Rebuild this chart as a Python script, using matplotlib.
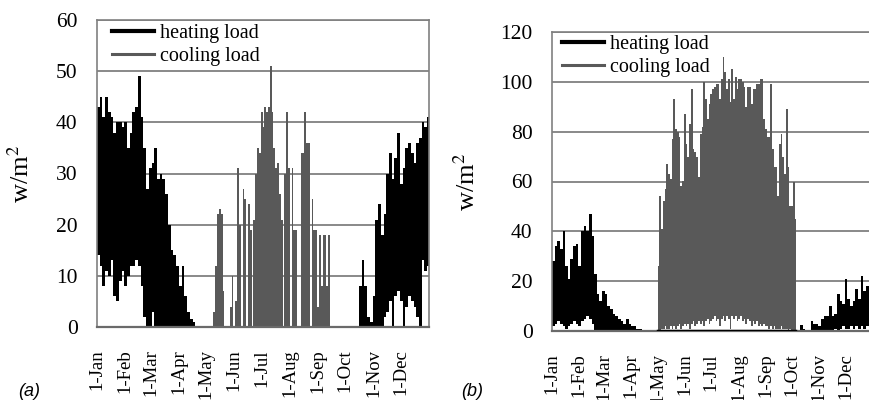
import numpy as np
import matplotlib
matplotlib.use("Agg")
import matplotlib.pyplot as plt
from matplotlib.lines import Line2D

plt.rcParams['font.family'] = ['Liberation Serif', 'DejaVu Serif']
plt.rcParams['mathtext.fontset'] = 'stix'

months = ['1-Jan', '1-Feb', '1-Mar', '1-Apr', '1-May', '1-Jun',
          '1-Jul', '1-Aug', '1-Sep', '1-Oct', '1-Nov', '1-Dec']
month_day = [0, 31, 59, 90, 120, 151, 181, 212, 243, 273, 304, 334]

# ---- panel (a): values, w/m2 ----
a_heat1_days = np.arange(0, 106, 3)
a_heat1_hi = [43, 45, 41, 45, 42, 41, 38, 40, 40, 39, 40, 35, 38, 42, 43, 49, 41, 35,
              27, 31, 32, 35, 29, 30, 29, 26, 20, 15, 14, 12, 8, 12, 6, 3, 1.5, 1]
a_heat1_lo = [14, 12, 8, 11, 10, 13, 6, 5, 9, 11, 8, 10, 12, 12, 13, 12, 8, 2,
              0, 0, 3, 0, 0, 0, 0, 0, 0, 0, 0, 0, 0, 0, 0, 0, 0, 0]
a_heat2_days = np.arange(288, 364, 3)
a_heat2_hi = [8, 13, 8, 2, 1, 6, 21, 24, 18, 22, 30, 34, 29, 33, 38, 28, 31, 35,
              36, 34, 32, 36, 37, 40, 39, 41]
a_heat2_lo = [0, 0, 0, 0, 0, 0, 0, 0, 0, 2, 3, 5, 0, 6, 7, 5, 0, 4,
              6, 5, 4, 2, 0, 13, 11, 12]
a_cool_days = np.arange(128, 257, 2)
a_cool_hi = [3, 12, 22, 23, 22, 7, 0, 0, 0, 4,
             10, 0, 5, 31, 20, 0, 27, 25, 0, 24,
             19, 0, 21, 30, 35, 34, 42, 39, 43, 42,
             43, 51, 42, 35, 31, 32, 26, 21, 0, 30,
             42, 31, 0, 31, 19, 19, 0, 0, 34, 34,
             42, 36, 36, 0, 25, 19, 19, 4, 18, 8,
             18, 18, 8, 18, 0]

# ---- panel (b) ----
b_heat1_days = np.arange(0, 118, 3)
b_heat1_hi = [28, 34, 36, 33, 40, 26, 21, 29, 34, 35, 26, 40, 42, 40, 47, 38, 23, 15, 12, 16,
              15, 10, 9, 7, 6, 5, 4, 3, 5, 3, 2, 2, 1, 1, 0.5, 0.5, 0.3, 0.3, 0.3, 0.5]
b_heat1_lo = [2, 3, 4, 3, 2, 1, 2, 3, 4, 3, 2, 4, 5, 6, 5, 3, 0, 0, 0, 0,
              0, 0, 0, 0, 0, 0, 0, 0, 0, 0, 0, 0, 0, 0, 0, 0, 0, 0, 0, 0]
b_heat2_days = np.arange(279, 364, 3)
b_heat2_hi = [0, 2.4, 1, 0, 0, 4, 3, 3, 2, 5, 6, 6, 10, 6, 7, 15, 12, 11, 21, 13,
              10, 12, 17, 13, 22, 16, 18, 17, 33]
b_heat2_lo = [0, 0, 0, 0, 0, 0, 0, 0, 0, 0, 0, 0, 0, 0, 1, 0, 1, 2, 1, 1,
              2, 1, 2, 1, 2, 1, 2, 1, 2]
b_cool_days = np.arange(120, 277, 2)
b_cool_hi = [26, 54, 41, 52, 57, 67, 63, 61, 77, 93,
             81, 80, 78, 58, 60, 87, 75, 70, 83, 97,
             73, 72, 70, 62, 79, 82, 100, 93, 85, 91,
             95, 97, 98, 99, 99, 93, 101, 110, 104, 97,
             101, 92, 105, 93, 102, 97, 101, 101, 100, 98,
             90, 98, 98, 91, 97, 97, 99, 99, 101, 101,
             85, 81, 78, 78, 99, 73, 66, 66, 54, 75,
             79, 70, 63, 89, 66, 50, 50, 60, 45]
b_cool_lo = [0, 0, 1, 1, 2, 1, 1, 2, 1, 2,
             1, 2, 3, 1, 2, 3, 2, 3, 1, 3,
             4, 2, 3, 4, 3, 4, 2, 4, 5, 3,
             4, 5, 6, 4, 5, 2, 5, 6, 4, 6,
             5, 1, 6, 5, 6, 4, 5, 6, 4, 5,
             3, 5, 4, 2, 4, 3, 4, 2, 3, 2,
             3, 2, 2, 1, 2, 1, 2, 1, 1, 1,
             2, 1, 1, 1, 0, 1, 0, 0, 0]

HEAT = 'black'
COOL = '#595959'
GRID = '#808080'


def rangebars(ax, days, hi, lo, color, z):
    hi = np.asarray(hi, float)
    lo = np.asarray(lo, float)
    step = days[1] - days[0]
    ax.bar(days, hi - lo, bottom=lo, width=step, align='edge',
           color=color, linewidth=0, zorder=z)


def style(ax, ymax, ystep, xpad):
    ax.set_xlim(0, 365)
    ax.set_ylim(0, ymax)
    ax.set_yticks(np.arange(0, ymax + 1, ystep))
    ax.set_xticks(month_day)
    ax.set_xticklabels(months, rotation=90, fontsize=13.5)
    ax.tick_params(axis='y', labelsize=15.5, length=0, pad=14)
    ax.tick_params(axis='x', length=0, pad=xpad)
    ax.set_axisbelow(True)
    ax.grid(axis='y', color=GRID, lw=1.3)
    for s in ax.spines.values():
        s.set_color(GRID)
        s.set_linewidth(1.2)
    ax.spines['bottom'].set_color('#6a6a6a')
    ax.spines['bottom'].set_linewidth(1.6)
    ax.set_ylabel('w/m$^{2}$', fontsize=19)


def add_legend(ax, x0, y0):
    h = [Line2D([], [], color=HEAT, lw=3), Line2D([], [], color=COOL, lw=2.2)]
    ax.legend(h, ['heating load', 'cooling load'], loc='upper left',
              bbox_to_anchor=(x0, y0), frameon=False, fontsize=14.5,
              handlelength=2.1, handletextpad=0.3, labelspacing=0.2,
              borderaxespad=0, borderpad=0)


fig = plt.figure(figsize=(8.7, 4.0), dpi=100)

ax1 = fig.add_axes([97 / 870, 73 / 400, 332 / 870, 307 / 400])
rangebars(ax1, a_heat1_days, a_heat1_hi, a_heat1_lo, HEAT, 2)
rangebars(ax1, a_heat2_days, a_heat2_hi, a_heat2_lo, HEAT, 2)
rangebars(ax1, a_cool_days, a_cool_hi, np.zeros(len(a_cool_hi)), COOL, 2)
style(ax1, 60, 10, 16)
add_legend(ax1, 0.045, 0.987)
ax1.yaxis.set_label_coords(-0.19, 0.5)

ax2 = fig.add_axes([552 / 870, 69 / 400, 321 / 870, 299 / 400])
rangebars(ax2, b_heat1_days, b_heat1_hi, b_heat1_lo, HEAT, 2)
rangebars(ax2, b_heat2_days, b_heat2_hi, b_heat2_lo, HEAT, 2)
rangebars(ax2, b_cool_days, b_cool_hi, b_cool_lo, COOL, 2)
ax2.plot(b_cool_days, np.zeros(len(b_cool_days)), color=HEAT, lw=2.5, zorder=3)
style(ax2, 120, 20, 16)
add_legend(ax2, 0.03, 0.99)
ax2.yaxis.set_label_coords(-0.224, 0.5)

fig.text(29 / 870, 1 - 391 / 400, '(a)', ha='center', va='center', fontsize=13,
         style='italic', family=['Liberation Sans', 'DejaVu Sans'])
fig.text(472 / 870, 1 - 391 / 400, '(b)', ha='center', va='center', fontsize=13,
         style='italic', family=['Liberation Sans', 'DejaVu Sans'])

fig.savefig('out.png', dpi=100)
